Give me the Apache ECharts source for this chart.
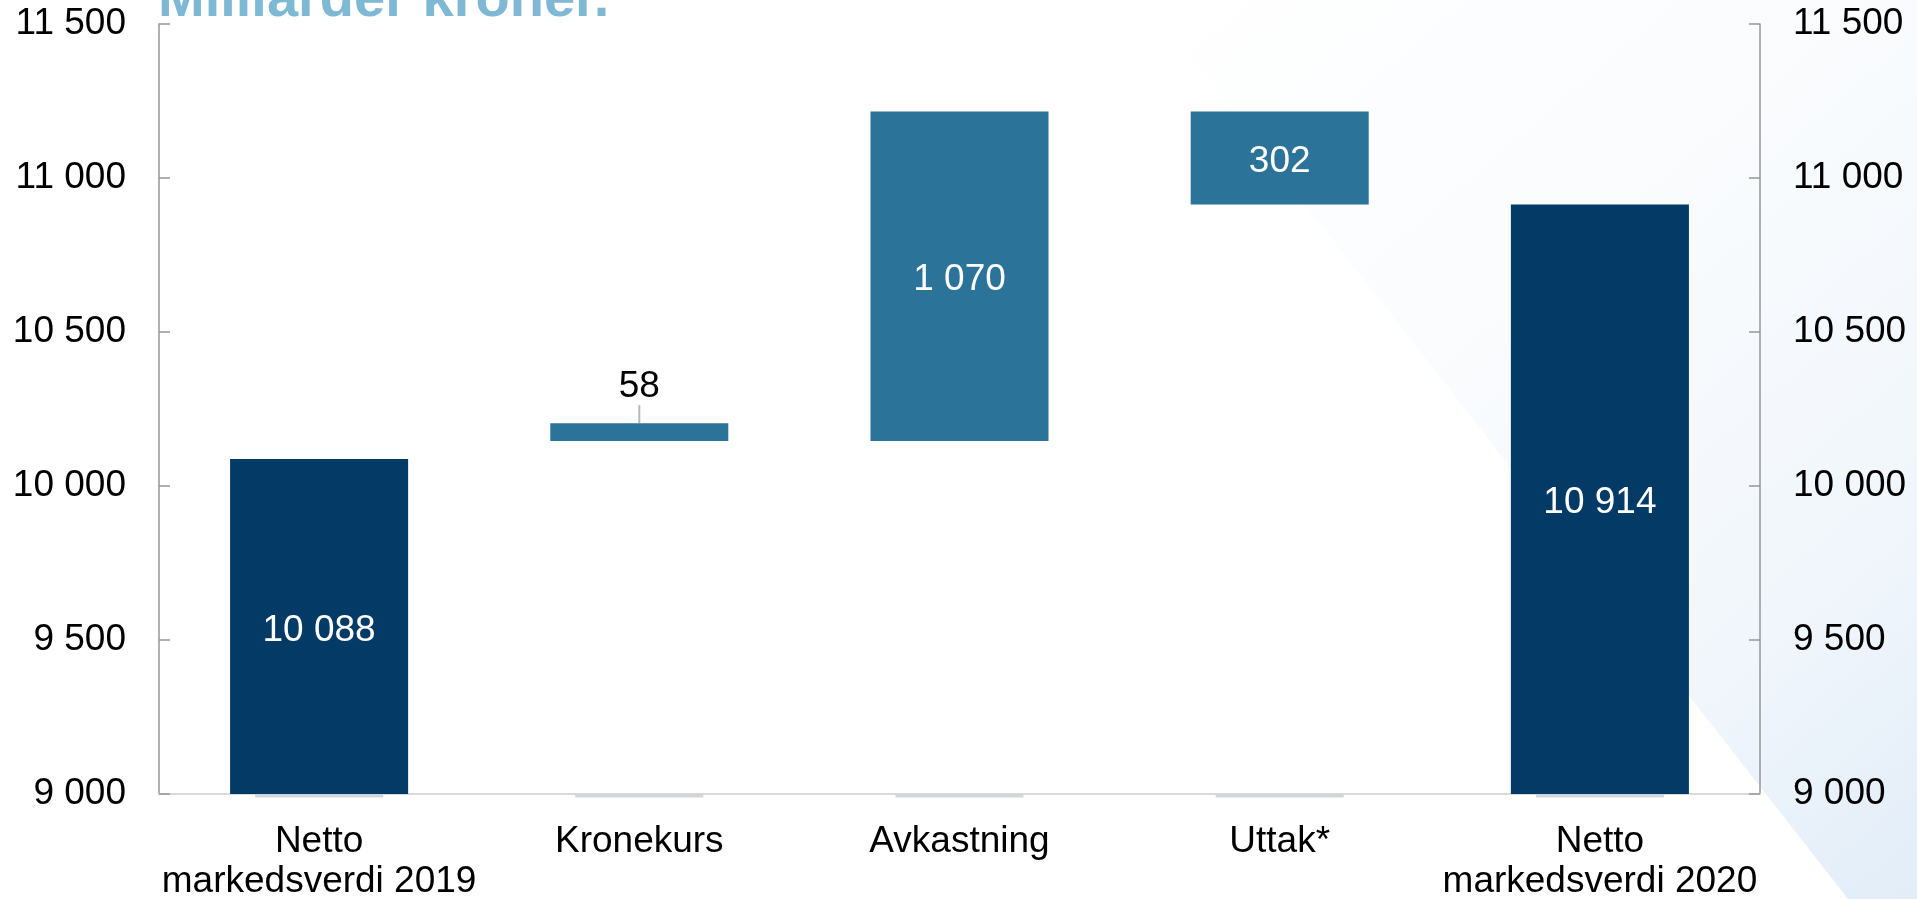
<!DOCTYPE html>
<html>
<head>
<meta charset="utf-8">
<title>Markedsverdi</title>
<script src="https://cdn.jsdelivr.net/npm/echarts@6/dist/echarts.min.js"></script>
<style>
  html, body { margin: 0; padding: 0; background: #fff; }
  #chart { width: 1917px; height: 899px; }
</style>
</head>
<body>
<div id="chart"></div>
<script>
var categories = ["Netto\nmarkedsverdi 2019", "Kronekurs", "Avkastning", "Uttak*", "Netto\nmarkedsverdi 2020"];
// usynlig sokkel under endringsstolpene
var baseValues = [0, 10146, 10146, 10914, 0];
var barValues = [10088, 58, 1070, 302, 10914];
var baselineValues = [9000, 9000, 9000, 9000, 9000];
var yTicks = [9000, 9500, 10000, 10500, 11000, 11500];

var dark = "#033a66";
var mid = "#2c7399";
var axisGrey = "#969696";

function fmt(v) {
  return String(v).replace(/\B(?=(\d{3})+(?!\d))/g, " ");
}

var myChart = echarts.init(document.getElementById("chart"));

var barData = barValues.map(function (v, i) {
  var total = i === 0 || i === categories.length - 1;
  var item = {
    value: v,
    itemStyle: { color: total ? dark : mid },
    label: { position: "inside", color: "#fff", offset: [0, 4] }
  };
  if (i === 1) {
    // liten stolpe: tallet står over
    item.label = { position: "top", color: "#000", distance: 18 };
  }
  return item;
});

// strek fra "58" ned til stolpen
var leaderData = [[1, baseValues[1] + barValues[1]]];

var yAxisCommon = {
  type: "value",
  min: yTicks[0],
  max: yTicks[yTicks.length - 1],
  interval: 500,
  splitLine: { show: false },
  axisLine: { show: true, lineStyle: { color: axisGrey, width: 1.5 } },
  axisTick: { show: true, inside: true, length: 11, lineStyle: { color: axisGrey, width: 1.5 } },
  axisLabel: {
    color: "#000",
    fontFamily: "Liberation Sans",
    fontSize: 37,
    margin: 33,
    formatter: fmt
  }
};

var option = {
  backgroundColor: "#fff",
  animation: false,
  graphic: [
    {
      type: "polygon",
      z: -10,
      silent: true,
      shape: { points: [[1145, 0], [1917, 0], [1917, 899], [1848, 899]] },
      style: {
        fill: new echarts.graphic.LinearGradient(0, 0, 1, 1, [
          { offset: 0, color: "rgba(226,237,248,0)" },
          { offset: 0.42, color: "rgba(226,237,248,0.2)" },
          { offset: 0.75, color: "rgba(226,237,248,0.5)" },
          { offset: 1, color: "rgba(226,237,248,1)" }
        ])
      }
    },
    {
      type: "text",
      left: 158,
      top: -27,
      style: {
        text: "Milliarder kroner.",
        fill: "#7fb8d4",
        font: "bold 56px 'Liberation Sans'"
      }
    }
  ],
  grid: { left: 159, right: 157, top: 24, bottom: 105, outerBoundsMode: "none" },
  xAxis: {
    type: "category",
    data: categories,
    axisLine: { show: true, lineStyle: { color: "#d9d9d9", width: 2 } },
    axisTick: { show: false },
    axisLabel: {
      color: "#000",
      fontFamily: "Liberation Sans",
      fontSize: 37,
      lineHeight: 40,
      margin: 28,
      interval: 0
    }
  },
  yAxis: [
    Object.assign({ position: "left" }, yAxisCommon),
    Object.assign({ position: "right" }, yAxisCommon)
  ],
  series: [
    {
      name: "base",
      type: "bar",
      stack: "w",
      barWidth: "55.6%",
      itemStyle: { color: "transparent" },
      emphasis: { disabled: true },
      data: baseValues
    },
    {
      name: "verdi",
      type: "bar",
      stack: "w",
      barWidth: "55.6%",
      label: {
        show: true,
        fontFamily: "Liberation Sans",
        fontSize: 37,
        formatter: function (p) { return fmt(p.value); }
      },
      data: barData
    },
    {
      name: "strek",
      type: "scatter",
      symbol: "rect",
      symbolSize: [2, 18],
      symbolOffset: [0, -9],
      silent: true,
      z: 1,
      itemStyle: { color: "#a6a6a6" },
      data: leaderData
    },
    {
      name: "grunnlinje",
      type: "scatter",
      symbol: "rect",
      symbolSize: [128, 3],
      symbolOffset: [0, 2],
      clip: false,
      silent: true,
      itemStyle: { color: "#c8ccd0" },
      data: baselineValues
    }
  ]
};

myChart.setOption(option);
window.addEventListener("resize", function () {
  myChart.resize();
});
</script>
</body>
</html>
